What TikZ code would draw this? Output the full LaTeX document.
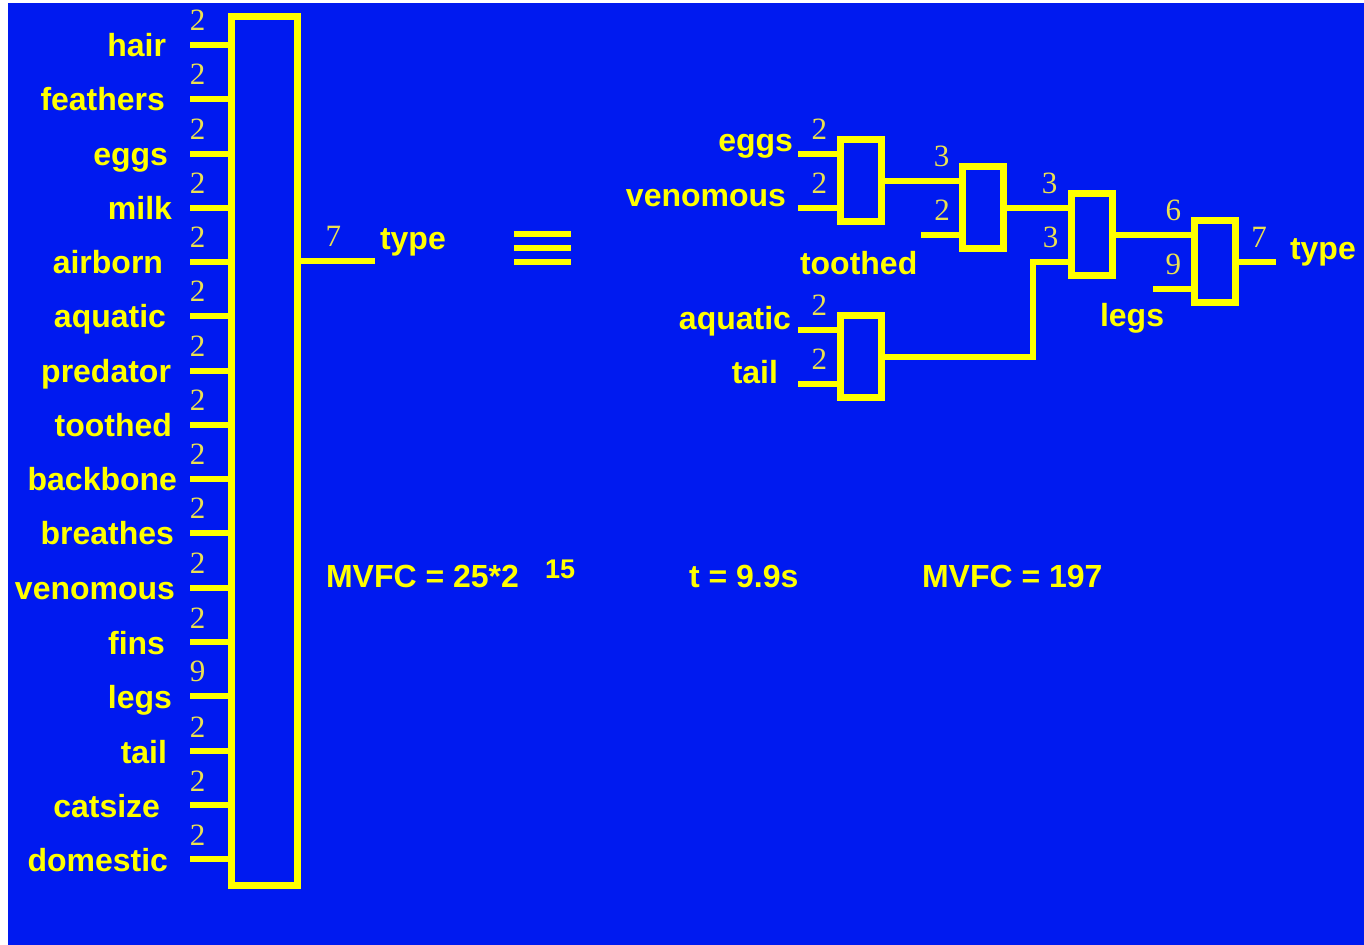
\documentclass[tikz,border=0pt]{standalone}
\usepackage{fontspec}
\usepackage{tikz}
\newfontfamily\arialfont{Liberation Sans}
\newfontfamily\timesfont{Liberation Serif}
\definecolor{bgblue}{RGB}{0,26,240}
\definecolor{wireyellow}{RGB}{255,255,0}
\definecolor{numyellow}{RGB}{235,225,80}
\tikzset{
  wire/.style={draw=wireyellow, line width=3.3pt},
  box/.style={draw=wireyellow, line width=3.5pt, inner sep=0pt,
    minimum width=20.5pt, minimum height=41pt},
  lab/.style={anchor=base east, inner sep=0pt, outer sep=0pt, text=wireyellow,
    font=\arialfont\bfseries\fontsize{16}{19}\selectfont},
  num/.style={above=7pt, inner sep=0pt, outer sep=0pt, text=numyellow,
    font=\timesfont\fontsize{15.5}{18}\selectfont},
}

\begin{document}
\begin{tikzpicture}[x=0.5pt, y=-0.5pt]
	\useasboundingbox (0,0) rectangle (1364,945);
	\fill[white] (0,0) rectangle (1364,945);
	\fill[bgblue] (8,3) rectangle (1364,945);

	% the single big block
	\node[box, minimum width=33pt, minimum height=434pt] (big) at (264,451) {};

	\node[lab] (hair) at (166,57) {hair};
	\node[lab] (feathers) at (165,111) {feathers};
	\node[lab] (eggs) at (168,166) {eggs};
	\node[lab] (milk) at (172,220) {milk};
	\node[lab] (airborn) at (163,274) {airborn};
	\node[lab] (aquatic) at (166,328) {aquatic};
	\node[lab] (predator) at (171,383) {predator};
	\node[lab] (toothed) at (172,437) {toothed};
	\node[lab] (backbone) at (177,491) {backbone};
	\node[lab] (breathes) at (174,545) {breathes};
	\node[lab] (venomous) at (175,600) {venomous};
	\node[lab] (fins) at (165,654) {fins};
	\node[lab] (legs) at (172,708) {legs};
	\node[lab] (tail) at (167,763) {tail};
	\node[lab] (catsize) at (160,817) {catsize};
	\node[lab] (domestic) at (168,871) {domestic};

	\coordinate (hairin) at (190,45);
	\coordinate (feathersin) at (190,99);
	\coordinate (eggsin) at (190,154);
	\coordinate (milkin) at (190,208);
	\coordinate (airbornin) at (190,262);
	\coordinate (aquaticin) at (190,316);
	\coordinate (predatorin) at (190,371);
	\coordinate (toothedin) at (190,425);
	\coordinate (backbonein) at (190,479);
	\coordinate (breathesin) at (190,533);
	\coordinate (venomousin) at (190,588);
	\coordinate (finsin) at (190,642);
	\coordinate (legsin) at (190,696);
	\coordinate (tailin) at (190,751);
	\coordinate (catsizein) at (190,805);
	\coordinate (domesticin) at (190,859);

	\draw[wire] (hairin) -- node[num, pos=0.2] {2} (hairin -| big.west);
	\draw[wire] (feathersin) -- node[num, pos=0.2] {2} (feathersin -| big.west);
	\draw[wire] (eggsin) -- node[num, pos=0.2] {2} (eggsin -| big.west);
	\draw[wire] (milkin) -- node[num, pos=0.2] {2} (milkin -| big.west);
	\draw[wire] (airbornin) -- node[num, pos=0.2] {2} (airbornin -| big.west);
	\draw[wire] (aquaticin) -- node[num, pos=0.2] {2} (aquaticin -| big.west);
	\draw[wire] (predatorin) -- node[num, pos=0.2] {2} (predatorin -| big.west);
	\draw[wire] (toothedin) -- node[num, pos=0.2] {2} (toothedin -| big.west);
	\draw[wire] (backbonein) -- node[num, pos=0.2] {2} (backbonein -| big.west);
	\draw[wire] (breathesin) -- node[num, pos=0.2] {2} (breathesin -| big.west);
	\draw[wire] (venomousin) -- node[num, pos=0.2] {2} (venomousin -| big.west);
	\draw[wire] (finsin) -- node[num, pos=0.2] {2} (finsin -| big.west);
	\draw[wire] (legsin) -- node[num, pos=0.2] {9} (legsin -| big.west);
	\draw[wire] (tailin) -- node[num, pos=0.2] {2} (tailin -| big.west);
	\draw[wire] (catsizein) -- node[num, pos=0.2] {2} (catsizein -| big.west);
	\draw[wire] (domesticin) -- node[num, pos=0.2] {2} (domesticin -| big.west);

	\coordinate (typeout) at (375,261);
	\draw[wire] (big.east |- typeout) -- node[num, pos=0.44] {7} (typeout);
	\node[lab, anchor=base west] (type) at (380,250) {type};

	% equivalence sign
	\draw[wire, line width=3pt] (514,234) -- (571,234);
	\draw[wire, line width=3pt] (514,248) -- (571,248);
	\draw[wire, line width=3pt] (514,262) -- (571,262);

	% the decomposed network
	\node[box] (A) at (861,181) {};
	\node[box] (B) at (982.5,208) {};
	\node[box] (C) at (1092,235) {};
	\node[box] (D) at (861,357) {};
	\node[box] (E) at (1214.5,262) {};

	\node[lab] (reggs) at (793,152) {eggs};
	\node[lab] (rvenomous) at (786,207) {venomous};
	\node[lab] (raquatic) at (791,330) {aquatic};
	\node[lab] (rtail) at (778,384) {tail};
	\node[lab, anchor=base west] (rtoothed) at (800,275) {toothed};
	\node[lab, anchor=base west] (rlegs) at (1100,327) {legs};
	\node[lab, anchor=base west] (rtype) at (1290,260) {type};

	\coordinate (reggsin) at (798,154);
	\coordinate (rvenomousin) at (798,208);
	\coordinate (raquaticin) at (798,330);
	\coordinate (rtailin) at (798,384);
	\coordinate (rtoothedin) at (921,235);
	\coordinate (rlegsin) at (1153,289);
	\coordinate (rtypeout) at (1276,262);

	\draw[wire] (reggsin) -- node[num, pos=0.55] {2} (reggsin -| A.west);
	\draw[wire] (rvenomousin) -- node[num, pos=0.55] {2} (rvenomousin -| A.west);
	\draw[wire] (raquaticin) -- node[num, pos=0.55] {2} (raquaticin -| D.west);
	\draw[wire] (rtailin) -- node[num, pos=0.55] {2} (rtailin -| D.west);
	\draw[wire] (A.east) -- node[num, pos=0.77] {3} (A.east -| B.west);
	\draw[wire] (rtoothedin) -- node[num, pos=0.56] {2} (rtoothedin -| B.west);
	\draw[wire] (B.east) -- node[num, pos=0.7] {3} (B.east -| C.west);
	\draw[wire] (D.east) -- ++(148,0) |- node[num, pos=0.75] {3} ([yshift=-13.5pt]C.west);
	\draw[wire] (C.east) -- node[num, pos=0.77] {6} (C.east -| E.west);
	\draw[wire] (rlegsin) -- node[num, pos=0.54] {9} (rlegsin -| E.west);
	\draw[wire] (E.east) -- node[num, pos=0.55] {7} (rtypeout);

	% figures of merit
	\node[lab, anchor=base west] (mvfcleft) at (326,588) {MVFC = 25*2};
	\node[lab, anchor=base west, font=\arialfont\bfseries\fontsize{13.5}{16}\selectfont] (mvfcexp) at (545,579) {15};
	\node[lab, anchor=base west] (time) at (689,588) {t = 9.9s};
	\node[lab, anchor=base west] (mvfcright) at (922,588) {MVFC = 197};
\end{tikzpicture}
\end{document}
